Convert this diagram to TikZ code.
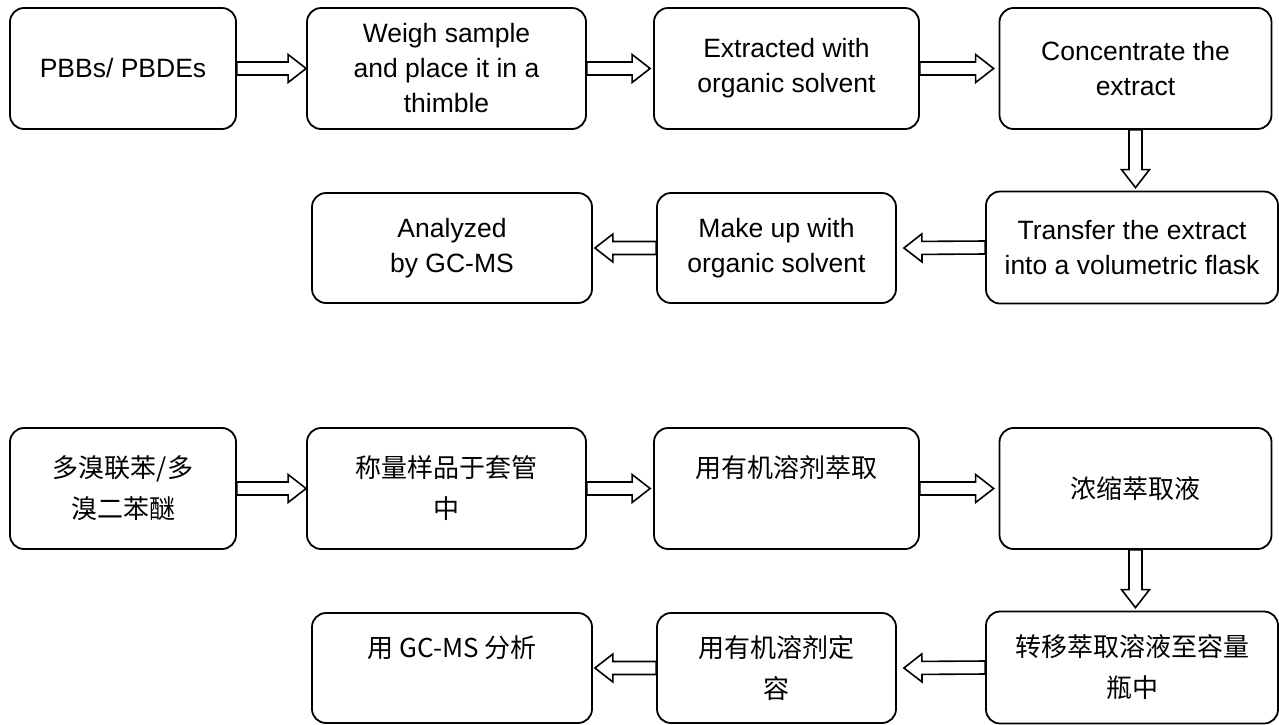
\documentclass[tikz,border=0pt]{standalone}
\usepackage{fontspec}
\setmainfont{Liberation Sans}
\newfontfamily\cjk{Noto Sans CJK SC}
\usetikzlibrary{calc}
\begin{document}
\begin{tikzpicture}[x=1pt,y=-1pt,
stepbox/.style={draw=black, line width=1.8pt, rounded corners=14pt, inner sep=0pt, align=center, minimum height=121pt, font=\fontsize{26.5}{35}\selectfont},
lowbox/.style={stepbox, minimum height=110pt},
zh/.style={font=\cjk\fontsize{26}{41}\selectfont},
hollow/.style={draw=black, line width=1.6pt, to path={coordinate (hS) ($(\tikztotarget)!18pt!(\tikztostart)$) coordinate (hN)
($(hS)!6.5pt!90:(hN)$) -- ($(hN)!6.5pt!-90:(hS)$) -- ($(hN)!14pt!-90:(hS)$) -- (\tikztotarget)
-- ($(hN)!14pt!90:(hS)$) -- ($(hN)!6.5pt!90:(hS)$) -- ($(hS)!6.5pt!-90:(hN)$) -- cycle}}]
\useasboundingbox (0,0) rectangle (1279,724);
\node[stepbox, minimum width=226pt] (pbb) at (123,68.5) {PBBs/ PBDEs};
\node[stepbox, minimum width=279pt] (weigh) at (446.5,68.5) {Weigh sample\\and place it in a\\thimble};
\node[stepbox, minimum width=265pt] (extract) at (786.5,68.5) {Extracted with\\organic solvent};
\node[stepbox, minimum width=272pt] (conc) at (1135.5,68.5) {Concentrate the\\extract};
\node[stepbox, minimum width=292pt, minimum height=112pt] (transfer) at (1132,247.5) {Transfer the extract\\into a volumetric flask};
\node[lowbox, minimum width=239pt] (makeup) at (776.5,248) {Make up with\\organic solvent};
\node[lowbox, minimum width=280pt] (analyze) at (452,248) {Analyzed\\by GC-MS};
\draw[hollow] (pbb.east) to (weigh.west);
\draw[hollow] (weigh.east) to ([xshift=-3pt]extract.west);
\draw[hollow] (extract.east) to ([xshift=-5pt]conc.west);
\draw[hollow] (conc.south) to ([yshift=3pt]conc.south |- transfer.north);
\draw[hollow] (transfer.west) to ([xshift=7pt]makeup.east);
\draw[hollow] (makeup.west) to ([xshift=2pt]analyze.east);
\node[stepbox, zh, minimum width=226pt] (pbbz) at (123,488.5) {多溴联苯/多\\溴二苯醚};
\node[stepbox, zh, minimum width=279pt] (weighz) at (446.5,488.5) {称量样品于套管\\中};
\node[stepbox, zh, minimum width=265pt] (extractz) at (786.5,488.5) {用有机溶剂萃取\\\phantom{中}};
\node[stepbox, zh, minimum width=272pt] (concz) at (1135.5,488.5) {浓缩萃取液};
\node[stepbox, zh, minimum width=292pt, minimum height=112pt] (transferz) at (1132,667.5) {转移萃取溶液至容量\\瓶中};
\node[lowbox, zh, minimum width=239pt] (makeupz) at (776.5,668) {用有机溶剂定\\容};
\node[lowbox, zh, minimum width=280pt] (analyzez) at (452,668) {用 GC-MS 分析\\\phantom{中}};
\draw[hollow] (pbbz.east) to (weighz.west);
\draw[hollow] (weighz.east) to ([xshift=-3pt]extractz.west);
\draw[hollow] (extractz.east) to ([xshift=-5pt]concz.west);
\draw[hollow] (concz.south) to ([yshift=3pt]concz.south |- transferz.north);
\draw[hollow] (transferz.west) to ([xshift=7pt]makeupz.east);
\draw[hollow] (makeupz.west) to ([xshift=2pt]analyzez.east);
\end{tikzpicture}
\end{document}
